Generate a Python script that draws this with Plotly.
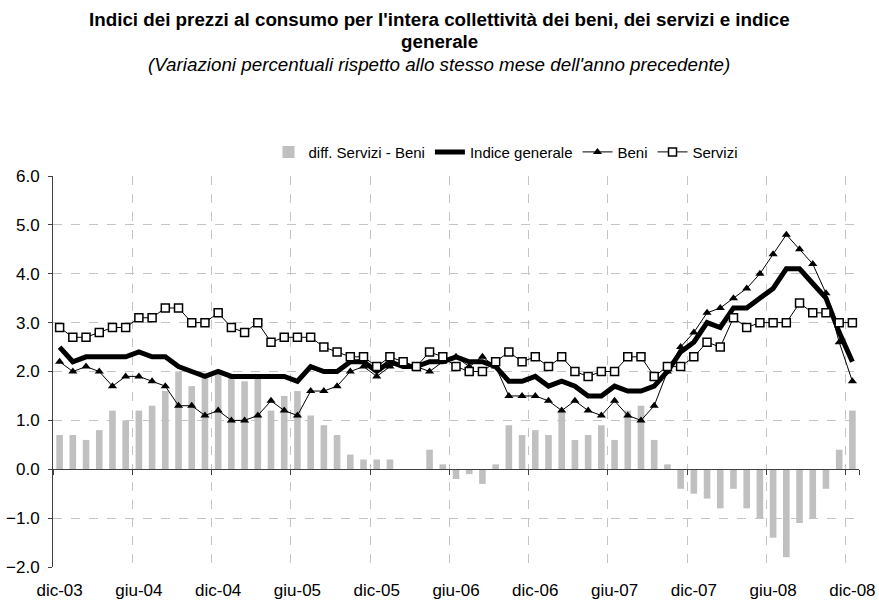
import plotly.graph_objects as go

# ---------------- data ----------------
months = [
    "dic-03", "gen-04", "feb-04", "mar-04", "apr-04", "mag-04", "giu-04", "lug-04", "ago-04", "set-04", "ott-04", "nov-04",
    "dic-04", "gen-05", "feb-05", "mar-05", "apr-05", "mag-05", "giu-05", "lug-05", "ago-05", "set-05", "ott-05", "nov-05",
    "dic-05", "gen-06", "feb-06", "mar-06", "apr-06", "mag-06", "giu-06", "lug-06", "ago-06", "set-06", "ott-06", "nov-06",
    "dic-06", "gen-07", "feb-07", "mar-07", "apr-07", "mag-07", "giu-07", "lug-07", "ago-07", "set-07", "ott-07", "nov-07",
    "dic-07", "gen-08", "feb-08", "mar-08", "apr-08", "mag-08", "giu-08", "lug-08", "ago-08", "set-08", "ott-08", "nov-08",
    "dic-08",
]

diff_servizi_beni = [
    0.7, 0.7, 0.6, 0.8, 1.2, 1.0, 1.2, 1.3, 1.6, 2.0, 1.7, 1.9,
    2.0, 1.9, 1.8, 1.9, 1.2, 1.5, 1.6, 1.1, 0.9, 0.7, 0.3, 0.2,
    0.2, 0.2, 0.0, 0.0, 0.4, 0.1, -0.2, -0.1, -0.3, 0.1, 0.9, 0.7,
    0.8, 0.7, 1.2, 0.6, 0.7, 0.9, 0.6, 1.2, 1.3, 0.6, 0.1, -0.4,
    -0.5, -0.6, -0.8, -0.4, -0.8, -1.0, -1.4, -1.8, -1.1, -1.0, -0.4, 0.4,
    1.2,
]

indice_generale = [
    2.5, 2.2, 2.3, 2.3, 2.3, 2.3, 2.4, 2.3, 2.3, 2.1, 2.0, 1.9,
    2.0, 1.9, 1.9, 1.9, 1.9, 1.9, 1.8, 2.1, 2.0, 2.0, 2.2, 2.2,
    2.0, 2.2, 2.1, 2.1, 2.2, 2.2, 2.3, 2.2, 2.2, 2.1, 1.8, 1.8,
    1.9, 1.7, 1.8, 1.7, 1.5, 1.5, 1.7, 1.6, 1.6, 1.7, 2.0, 2.4,
    2.6, 3.0, 2.9, 3.3, 3.3, 3.5, 3.7, 4.1, 4.1, 3.8, 3.5, 2.8,
    2.2,
]

beni = [
    2.2, 2.0, 2.1, 2.0, 1.7, 1.9, 1.9, 1.8, 1.7, 1.3, 1.3, 1.1,
    1.2, 1.0, 1.0, 1.1, 1.4, 1.2, 1.1, 1.6, 1.6, 1.7, 2.0, 2.1,
    1.9, 2.1, 2.2, 2.1, 2.0, 2.2, 2.3, 2.1, 2.3, 2.1, 1.5, 1.5,
    1.5, 1.4, 1.2, 1.4, 1.2, 1.1, 1.4, 1.1, 1.0, 1.3, 2.0, 2.5,
    2.8, 3.2, 3.3, 3.5, 3.7, 4.0, 4.4, 4.8, 4.5, 4.2, 3.6, 2.6,
    1.8,
]

servizi = [
    2.9, 2.7, 2.7, 2.8, 2.9, 2.9, 3.1, 3.1, 3.3, 3.3, 3.0, 3.0,
    3.2, 2.9, 2.8, 3.0, 2.6, 2.7, 2.7, 2.7, 2.5, 2.4, 2.3, 2.3,
    2.1, 2.3, 2.2, 2.1, 2.4, 2.3, 2.1, 2.0, 2.0, 2.2, 2.4, 2.2,
    2.3, 2.1, 2.3, 2.0, 1.9, 2.0, 2.0, 2.3, 2.3, 1.9, 2.1, 2.1,
    2.3, 2.6, 2.5, 3.1, 2.9, 3.0, 3.0, 3.0, 3.4, 3.2, 3.2, 3.0,
    3.0,
]

x_tick_labels = ["dic-03", "giu-04", "dic-04", "giu-05", "dic-05", "giu-06",
                 "dic-06", "giu-07", "dic-07", "giu-08", "dic-08"]
y_tick_values = [-2, -1, 0, 1, 2, 3, 4, 5, 6]

title_line1 = "Indici dei prezzi al consumo per l'intera collettività dei beni, dei servizi e indice"
title_line2 = "generale"
subtitle = "(Variazioni percentuali rispetto allo stesso mese dell'anno precedente)"

# ---------------- styling ----------------
FONT = "Liberation Sans, Arial, sans-serif"
AXIS_COLOR = "#404040"
GRID_COLOR = "#C4C4C4"

fig = go.Figure()

fig.add_trace(go.Bar(
    x=months, y=diff_servizi_beni, name="diff. Servizi - Beni",
    marker=dict(color="#C0C0C0", line=dict(width=0)), width=0.5,
))
fig.add_trace(go.Scatter(
    x=months, y=indice_generale, name="Indice generale", mode="lines",
    line=dict(color="black", width=5),
))
fig.add_trace(go.Scatter(
    x=months, y=beni, name="Beni", mode="lines+markers",
    line=dict(color="black", width=1),
    marker=dict(symbol="triangle-up", size=8, color="black"),
))
fig.add_trace(go.Scatter(
    x=months, y=servizi, name="Servizi", mode="lines+markers",
    line=dict(color="black", width=1),
    marker=dict(symbol="square", size=8, color="white", line=dict(color="black", width=1.5)),
))
# helper (draws nothing) so the axis crossing at zero gets its categories
fig.add_trace(go.Scatter(
    x=months, y=diff_servizi_beni, xaxis="x2", mode="none",
    showlegend=False, hoverinfo="skip",
))

y_lo, y_hi = y_tick_values[0], y_tick_values[-1]
zero_pos = (0 - y_lo) / (y_hi - y_lo)
x_range = [-0.5, len(months) - 0.5]

fig.update_layout(
    width=879, height=600,
    margin=dict(l=53, r=20, t=176, b=33, autoexpand=False),
    paper_bgcolor="white", plot_bgcolor="white",
    font=dict(family=FONT, color="black", size=15),
    bargap=0.5,
    showlegend=True,
    legend=dict(
        orientation="h", x=0.562, xanchor="center", y=1.061, yanchor="middle",
        font=dict(size=15, family=FONT), itemwidth=30, tracegroupgap=0,
        bgcolor="rgba(0,0,0,0)",
    ),
    xaxis=dict(
        type="category", categoryorder="array", categoryarray=months,
        range=x_range, autorange=False,
        tickmode="array", tickvals=x_tick_labels, ticktext=x_tick_labels,
        tickson="boundaries", ticks="", showline=False, zeroline=False,
        showgrid=True, gridcolor=GRID_COLOR, griddash="dash", gridwidth=1,
        tickfont=dict(size=17, family=FONT), ticklabelstandoff=11, tickangle=0,
        automargin=False,
    ),
    xaxis2=dict(
        type="category", categoryorder="array", categoryarray=months,
        overlaying="x", matches="x", anchor="free", position=zero_pos,
        range=x_range, autorange=False,
        tickmode="array", tickvals=x_tick_labels,
        tickson="boundaries", ticks="outside", ticklen=5, tickcolor=AXIS_COLOR,
        showticklabels=False, showgrid=False, zeroline=False,
        showline=True, linecolor=AXIS_COLOR, linewidth=1,
    ),
    yaxis=dict(
        range=[y_lo, y_hi], autorange=False, tickmode="array", tickvals=y_tick_values,
        tickformat=".1f", ticks="outside", ticklen=4, tickcolor=AXIS_COLOR,
        showline=True, linecolor=AXIS_COLOR, linewidth=1, zeroline=False,
        showgrid=True, gridcolor=GRID_COLOR, griddash="dash", gridwidth=1,
        tickfont=dict(size=17, family=FONT), ticklabelstandoff=5, automargin=False,
    ),
    annotations=[
        dict(text="<b>" + title_line1 + "</b>", xref="paper", yref="paper",
             x=0.4795, y=1.4015, xanchor="center", yanchor="middle", showarrow=False,
             font=dict(size=18.8, family=FONT)),
        dict(text="<b>" + title_line2 + "</b>", xref="paper", yref="paper",
             x=0.4795, y=1.345, xanchor="center", yanchor="middle", showarrow=False,
             font=dict(size=18.8, family=FONT)),
        dict(text="<i>" + subtitle + "</i>", xref="paper", yref="paper",
             x=0.4795, y=1.286, xanchor="center", yanchor="middle", showarrow=False,
             font=dict(size=18.8, family=FONT)),
    ],
)

# the page's default body margin would shift the figure; remove it
fig.write_html(
    "out.html",
    config={"displayModeBar": False},
    post_script="document.body.style.margin='0';document.body.style.overflow='hidden';",
)
